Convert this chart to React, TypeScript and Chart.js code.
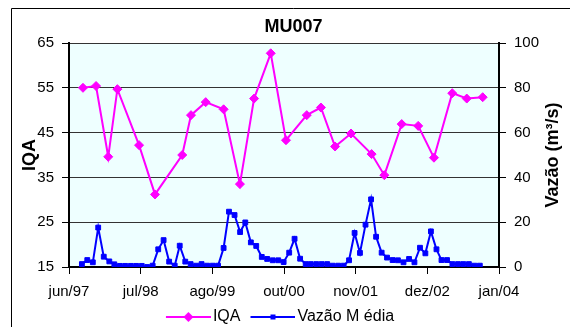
import React, { useEffect, useRef } from "react";
import { Chart, registerables } from "chart.js";

Chart.register(...registerables);

// ---------- data ----------
const chartTitle = "MU007";
const leftAxisTitle = "IQA";
const rightAxisTitle = "Vazão (m³/s)";
const iqaLabel = "IQA";
const flowLabel = "Vazão M édia";

const axisStartDate = "1997-06-21";
const xTickStepDays = 400;
const xTickLabels = ["jun/97", "jul/98", "ago/99", "out/00", "nov/01", "dez/02", "jan/04"];

const iqaTicks = [15, 25, 35, 45, 55, 65];
const flowTicks = [0, 20, 40, 60, 80, 100];

const iqaDates = [
  "1997-09-07", "1997-11-19", "1998-01-26", "1998-03-18", "1998-07-17", "1998-10-14",
  "1999-03-15", "1999-05-03", "1999-07-24", "1999-11-01", "2000-01-31", "2000-04-19",
  "2000-07-21", "2000-10-14", "2001-02-07", "2001-04-27", "2001-07-15", "2001-10-12",
  "2002-02-04", "2002-04-16", "2002-07-22", "2002-10-22", "2003-01-18", "2003-04-30",
  "2003-07-20", "2003-10-17",
];
const iqaValues = [
  55, 55.4, 39.6, 54.7, 42.2, 31.2,
  40, 48.9, 51.8, 50.2, 33.5, 52.6,
  62.7, 43.3, 48.9, 50.6, 41.9, 44.8,
  40.2, 35.5, 46.9, 46.5, 39.4, 53.8,
  52.6, 52.9,
];

const flowStartMonth = "1997-09";
const flowValues = [
  1.3, 3.1, 2.1, 17.6, 4.6, 2.5, 1.2, 0.5, 0.5, 0.5,
  0.5, 0.5, 0, 0.6, 7.9, 12, 2.4, 0.6, 9.5, 2.4,
  1.3, 0.6, 1.3, 0.6, 0.6, 0.6, 8.5, 24.7, 23.2, 15.6,
  19.9, 11, 9.4, 4.5, 3.6, 3, 3, 2.2, 6.4, 12.6,
  3.7, 1.3, 1.3, 1.3, 1.3, 1.3, 0.6, 0.6, 0.6, 3,
  15.2, 6.3, 18.9, 30.2, 13.5, 6.4, 4.2, 3.1, 3, 2.1,
  3.6, 2.1, 8.6, 6.1, 15.9, 7.9, 3.1, 3.1, 1.3, 1.3,
  1.3, 1.3, 0.6, 0.6,
];

// ---------- helpers ----------
const FONT = "'Liberation Sans', Arial, Helvetica, sans-serif";
const MAGENTA = "#FF00FF";
const BLUE = "#0000FF";
const DAY = 86400000;

const parseISO = (iso: string) => {
  const [y, m, d] = iso.split("-").map(Number);
  return Date.UTC(y, (m || 1) - 1, d || 1);
};
const baseTime = parseISO(axisStartDate);
const dayOf = (iso: string) => (parseISO(iso) - baseTime) / DAY;
const flowDay = (i: number) => {
  const [y, m] = flowStartMonth.split("-").map(Number);
  return (Date.UTC(y, m - 1 + i, 1) - baseTime) / DAY;
};

// legend swatch: line with a marker in its middle (transparent margin on the left)
function legendImage(color: string, kind: "diamond" | "square") {
  const c = document.createElement("canvas");
  const W = 53;
  const a = 8;
  c.width = W;
  c.height = 12;
  const ctx = c.getContext("2d")!;
  ctx.strokeStyle = color;
  ctx.fillStyle = color;
  ctx.lineWidth = 2;
  ctx.beginPath();
  ctx.moveTo(a, 6);
  ctx.lineTo(W, 6);
  ctx.stroke();
  const cx = a + (W - a) / 2;
  if (kind === "diamond") {
    ctx.beginPath();
    ctx.moveTo(cx - 5, 6);
    ctx.lineTo(cx, 1);
    ctx.lineTo(cx + 5, 6);
    ctx.lineTo(cx, 11);
    ctx.closePath();
    ctx.fill();
  } else {
    ctx.fillRect(cx - 2.5, 3.5, 5, 5);
  }
  return c;
}

const framePlugin = {
  id: "frameAndTitles",
  afterLayout(chart: any) {
    if (chart.legend) {
      chart.legend.left -= 5;
      chart.legend.right -= 5;
    }
  },
  beforeDraw(chart: any) {
    const { ctx, chartArea } = chart;
    ctx.save();
    ctx.fillStyle = "#EEFFFF";
    ctx.fillRect(chartArea.left, chartArea.top, chartArea.right - chartArea.left, chartArea.bottom - chartArea.top);
    ctx.strokeStyle = "#000";
    ctx.lineWidth = 1;
    ctx.beginPath();
    ctx.moveTo(0.5, chart.height);
    ctx.lineTo(0.5, 0.5);
    ctx.lineTo(chart.width, 0.5);
    ctx.stroke();
    ctx.restore();
  },
  afterDraw(chart: any) {
    const { ctx, chartArea } = chart;
    const midY = (chartArea.top + chartArea.bottom) / 2;
    const drawRotated = (text: string, x: number) => {
      ctx.save();
      ctx.fillStyle = "#000";
      ctx.font = `bold 18px ${FONT}`;
      ctx.textAlign = "center";
      ctx.textBaseline = "alphabetic";
      ctx.translate(x, midY);
      ctx.rotate(-Math.PI / 2);
      ctx.fillText(text, 0, 0);
      ctx.restore();
    };
    drawRotated(leftAxisTitle, 24);
    drawRotated(rightAxisTitle, 547);
  },
};

export default function App() {
  const ref = useRef<HTMLCanvasElement | null>(null);

  useEffect(() => {
    if (!ref.current) return;
    const iqaImg = legendImage(MAGENTA, "diamond");
    const flowImg = legendImage(BLUE, "square");
    const tickFont = { family: FONT, size: 15 };

    const chart = new Chart(ref.current, {
      type: "line",
      data: {
        datasets: [
          {
            label: iqaLabel,
            data: iqaDates.map((d, i) => ({ x: dayOf(d), y: iqaValues[i] })),
            yAxisID: "y",
            borderColor: MAGENTA,
            backgroundColor: MAGENTA,
            borderWidth: 2,
            pointStyle: "rectRot",
            pointRadius: 4.5,
            pointBorderWidth: 1,
            pointBackgroundColor: MAGENTA,
            pointBorderColor: MAGENTA,
            tension: 0,
          },
          {
            label: flowLabel,
            data: flowValues.map((v, i) => ({ x: flowDay(i), y: v })),
            yAxisID: "y1",
            borderColor: BLUE,
            backgroundColor: BLUE,
            borderWidth: 2,
            pointStyle: "rect",
            pointRadius: 3.4,
            pointBorderWidth: 1,
            pointBackgroundColor: BLUE,
            pointBorderColor: BLUE,
            tension: 0,
          },
        ],
      },
      options: {
        animation: false,
        responsive: false,
        devicePixelRatio: 1,
        layout: { padding: 0 },
        plugins: {
          tooltip: { enabled: false },
          title: {
            display: true,
            text: chartTitle,
            color: "#000",
            font: { family: FONT, size: 18, weight: "bold" },
            padding: { top: 8, bottom: 5.4 },
          },
          legend: {
            display: true,
            position: "bottom",
            fullSize: false,
            labels: {
              usePointStyle: true,
              pointStyleWidth: 41,
              padding: 8,
              color: "#000",
              font: { family: FONT, size: 16 },
              generateLabels: () => [
                { text: iqaLabel, pointStyle: iqaImg as any, fillStyle: MAGENTA, strokeStyle: MAGENTA, lineWidth: 0, hidden: false, datasetIndex: 0 },
                { text: flowLabel, pointStyle: flowImg as any, fillStyle: BLUE, strokeStyle: BLUE, lineWidth: 0, hidden: false, datasetIndex: 1 },
              ],
            },
          },
        },
        scales: {
          x: {
            type: "linear",
            min: 0,
            max: xTickStepDays * (xTickLabels.length - 1),
            afterBuildTicks: (s: any) => {
              s.ticks = xTickLabels.map((_, i) => ({ value: i * xTickStepDays }));
            },
            afterFit: (s: any) => {
              s.height = 34;
            },
            ticks: {
              autoSkip: false,
              maxRotation: 0,
              padding: 9,
              color: "#000",
              font: tickFont,
              callback: (_v: any, i: number) => xTickLabels[i],
            },
            grid: { drawOnChartArea: false, drawTicks: true, tickLength: 7, tickColor: "#000", tickWidth: 1 },
            border: { display: true, color: "#000", width: 2 },
          },
          y: {
            type: "linear",
            position: "left",
            min: iqaTicks[0],
            max: iqaTicks[iqaTicks.length - 1],
            afterBuildTicks: (s: any) => {
              s.ticks = iqaTicks.map((v) => ({ value: v }));
            },
            afterFit: (s: any) => {
              s.width = 58;
            },
            ticks: { padding: 8, color: "#000", font: tickFont },
            grid: { color: "#333", lineWidth: 1, drawTicks: true, tickLength: 7, tickColor: "#000", tickWidth: 1 },
            border: { display: true, color: "#000", width: 2 },
          },
          y1: {
            type: "linear",
            position: "right",
            min: flowTicks[0],
            max: flowTicks[flowTicks.length - 1],
            afterBuildTicks: (s: any) => {
              s.ticks = flowTicks.map((v) => ({ value: v }));
            },
            afterFit: (s: any) => {
              s.width = 77;
            },
            ticks: { padding: 8, color: "#000", font: tickFont },
            grid: { drawOnChartArea: false, drawTicks: true, tickLength: 7, tickColor: "#000", tickWidth: 1 },
            border: { display: true, color: "#000", width: 2 },
          },
        },
      } as any,
      plugins: [framePlugin],
    });
    return () => chart.destroy();
  }, []);

  return (
    <div style={{ position: "fixed", left: 0, top: 0, width: 570, height: 327, overflow: "hidden", background: "#fff" }}>
      <div style={{ position: "absolute", left: 11, top: 8, width: 565, height: 327 }}>
        <canvas ref={ref} width={565} height={327} style={{ width: 565, height: 327, display: "block" }} />
      </div>
    </div>
  );
}
